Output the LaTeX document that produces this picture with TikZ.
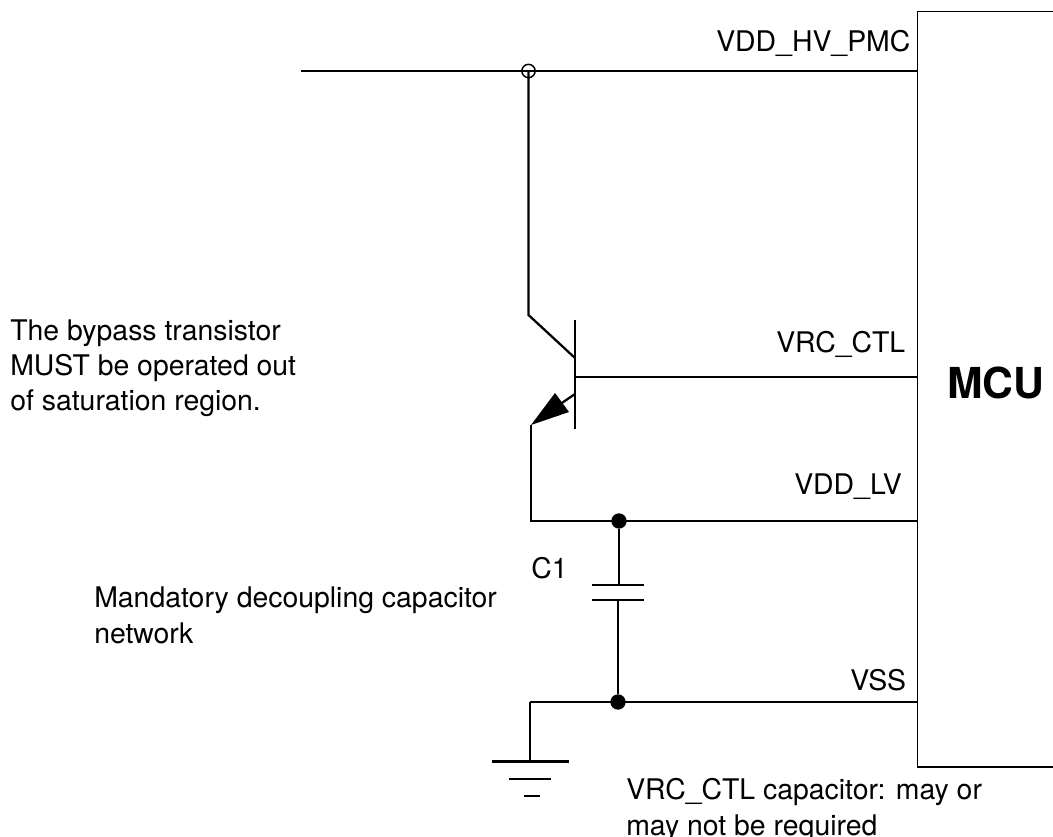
\documentclass[tikz,border=0pt]{standalone}
\usepackage{fontspec}
\setmainfont{TeX Gyre Heros}
\tikzset{
 wire/.style={line width=1.7pt,black},
 lbl/.style={inner sep=0pt,font=\fontsize{21.3}{26}\selectfont,anchor=base west,align=left},
 dotn/.style={circle,fill=black,inner sep=0pt,minimum size=11.5pt},
}
\begin{document}
\begin{tikzpicture}[x=0.75pt,y=-0.75pt]
\useasboundingbox (0,0) rectangle (1053,837);
% MCU box
\draw[line width=0.9pt] (1053,11.5) -- (917.5,11.5) -- (917.5,767) -- (1053,767);
\coordinate (vl) at (301,71);
\coordinate (hv) at (918,71);
\coordinate (ctl) at (918,377);
\coordinate (lv) at (918,521);
\coordinate (vss) at (918,702);
\coordinate (colA) at (528.5,71);
\coordinate (colB) at (528.5,315);
\coordinate (base) at (575,377);
\coordinate (colC) at (575,358);
\coordinate (emB) at (575,394);
\coordinate (emT) at (531,425);
\coordinate (emC) at (531,521);
\coordinate (capT) at (619,585);
\coordinate (capB) at (618,600);
\coordinate (gT) at (530,702);
\coordinate (gB) at (530,761.5);
\node[dotn] (d1) at (619,521) {};
\node[dotn] (d2) at (618,702) {};
\draw[wire] (vl) -- (hv);
\draw[wire] (colA) -- (colB) -- (colC);
\node[circle,draw,line width=1.1pt,fill=none,minimum size=10pt,inner sep=0pt] (jn) at (528.5,71) {};
\draw[wire,line width=1.9pt] (575,320) -- (575,429);
\draw[wire] (base) -- (ctl);
\draw[wire] (emB) -- (556,407);
\fill (531,425) -- (555,393) -- (569,412) -- cycle;
\draw[wire] (emT) -- (emC) -- (lv);
\draw[wire] (d1) -- (capT);
\draw[wire] (592,585) -- (644,585);
\draw[wire] (592,600) -- (644,600);
\draw[wire] (capB) -- (d2);
\draw[wire] (gT) -- (vss);
\draw[wire] (gT) -- (gB);
\draw[wire] (492,761.5) -- (569,761.5);
\draw[wire] (509,779) -- (551,779);
\draw[wire,line width=2.2pt] (524,796) -- (540,796);
\node[lbl] (t1) at (716,52) {VDD\_HV\_PMC};
\node[lbl] (t3) at (776,353) {VRC\_CTL};
\node[lbl] (t4) at (794,495) {VDD\_LV};
\node[lbl] (t5) at (850,690) {VSS};
\node[lbl,font=\fontsize{32}{38}\selectfont\bfseries] (mcu) at (947,399) {MCU};
\node[lbl] (t6) at (10,341) {The bypass transistor};
\node[lbl] (t7) at (10,375.5) {MUST be operated out};
\node[lbl] (t8) at (10,411) {of saturation region.};
\node[lbl] (t9) at (94,607) {Mandatory decoupling capacitor};
\node[lbl] (t10) at (94,643) {network};
\node[lbl] (t11) at (531,578) {C1};
\node[lbl] (t12) at (626,799) {VRC\_CTL capacitor: may or};
\node[lbl] (t13) at (626,835) {may not be required};
\end{tikzpicture}
\end{document}
